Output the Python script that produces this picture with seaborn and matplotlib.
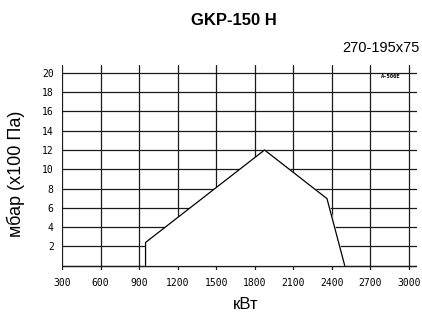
import seaborn as sns
import pandas as pd
from matplotlib import pyplot as plt

sns.set_style("white")
plt.rcParams["font.family"] = ["Liberation Sans", "DejaVu Sans"]
plt.rcParams["text.color"] = "black"
plt.rcParams["axes.labelcolor"] = "black"
plt.rcParams["xtick.color"] = "black"
plt.rcParams["ytick.color"] = "black"

# Working field outline (kW vs mbar)
power = [950, 950, 1876, 2362, 2500]
pressure = [0, 2.4, 12.0, 6.95, 0]
xticks = [300, 600, 900, 1200, 1500, 1800, 2100, 2400, 2700, 3000]
yticks = [0, 2, 4, 6, 8, 10, 12, 14, 16, 18, 20]
ytick_labels = ["", "2", "4", "6", "8", "10", "12", "14", "16", "18", "20"]

df = pd.DataFrame({"kW": power, "mbar": pressure})

fig = plt.figure(figsize=(4.22, 3.17), dpi=100)
ax = fig.add_axes([0.147, 0.148, 0.841, 0.647])

ax.set_axisbelow(True)
ax.grid(True, color="#1a1a1a", linewidth=0.9)
for s in ax.spines.values():
    s.set_visible(False)

ax.fill_between(df["kW"], df["mbar"], 0, color="white", zorder=2)
sns.lineplot(x="kW", y="mbar", data=df, sort=False, color="black",
             linewidth=0.9, ax=ax, zorder=3, estimator=None)
ax.axhline(0, color="#1a1a1a", linewidth=0.9, zorder=3)

ax.set_xlim(300, 3062)
ax.set_ylim(-0.47, 20.83)
ax.set_xticks(xticks)
ax.set_yticks(yticks)
ax.set_yticklabels(ytick_labels)
ax.tick_params(length=0, labelsize=7, pad=6)
for lab in ax.get_xticklabels() + ax.get_yticklabels():
    lab.set_family("DejaVu Sans Mono")

ax.set_xlabel("кВт", fontsize=12)
ax.xaxis.set_label_coords(0.518, -0.13)
ax.set_ylabel("мбар (х100 Па)", fontsize=13)
ax.yaxis.set_label_coords(-0.105, 0.47)

ax.text(2856, 19.6, "A-506E", fontsize=4, fontweight="bold", ha="center", va="center",
        family="DejaVu Sans Mono")

fig.text(0.555, 0.935, "GKP-150 H", fontsize=12, fontweight="bold", ha="center", va="center")
fig.text(0.995, 0.85, "270-195x75", fontsize=10.5, ha="right", va="center")

plt.savefig("out.png", dpi=100)
